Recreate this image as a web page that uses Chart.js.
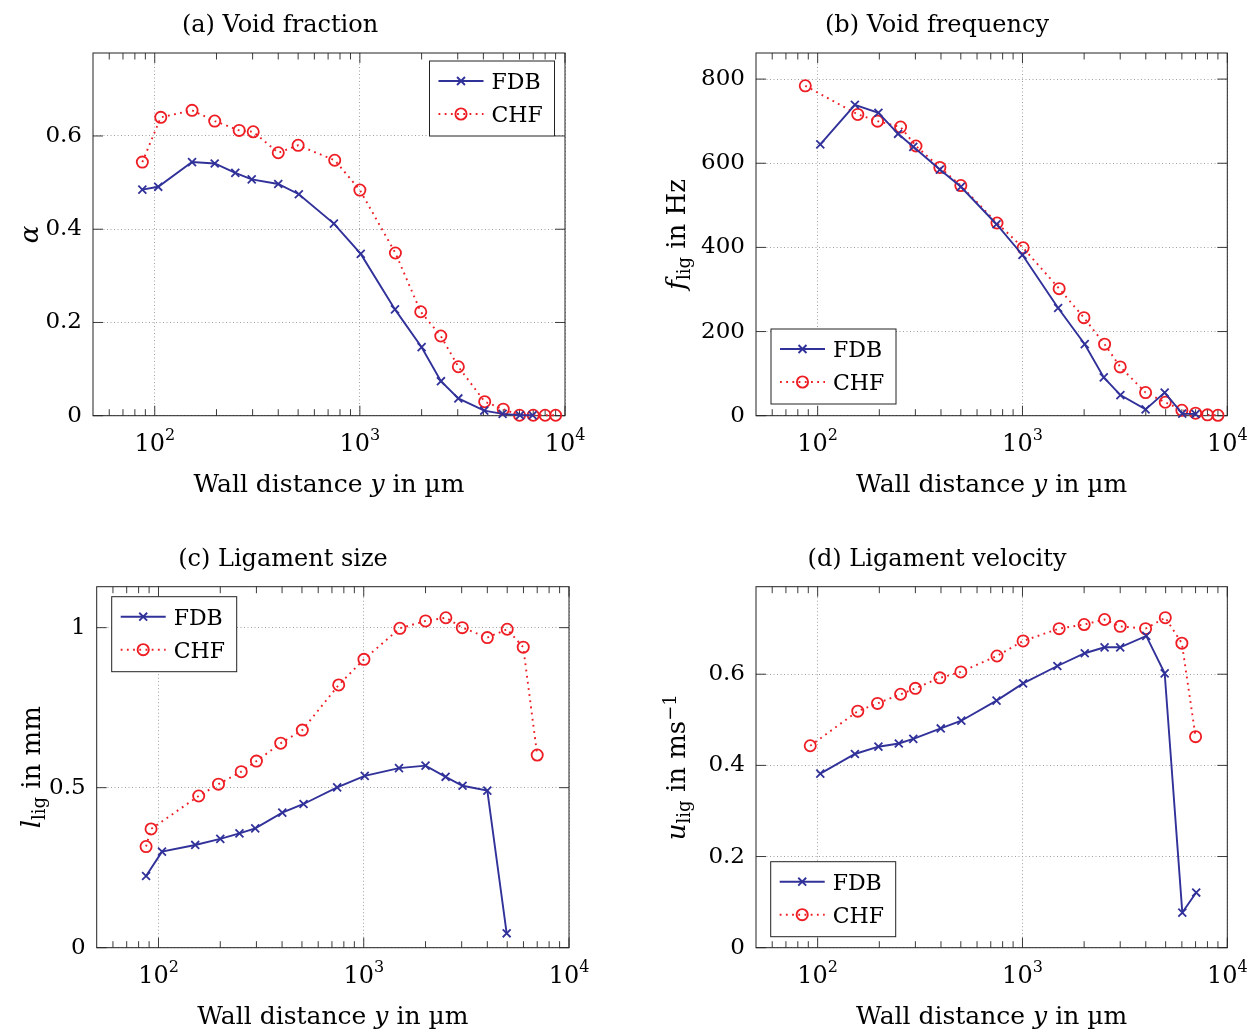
<!DOCTYPE html>
<html>
<head>
<meta charset="utf-8">
<script src="https://cdn.jsdelivr.net/npm/chart.js@4.4.1/dist/chart.umd.min.js"></script>
<style>
  body { margin: 0; background: #fff; }
  #wrap { position: relative; width: 1256px; height: 1032px; overflow: hidden; }
  canvas { position: absolute; }
</style>
</head>
<body>
<div id="wrap">
  <canvas id="chart-a" width="628" height="516" style="left:0;top:0"></canvas>
  <canvas id="chart-b" width="628" height="516" style="left:628px;top:0"></canvas>
  <canvas id="chart-c" width="628" height="516" style="left:0;top:516px"></canvas>
  <canvas id="chart-d" width="628" height="516" style="left:628px;top:516px"></canvas>
</div>
<script>
// wall distance axis (µm), shared by all four panels
const xMajor = [100, 1000, 10000];
const xMinor = [60, 70, 80, 90, 200, 300, 400, 500, 600, 700, 800, 900,
                2000, 3000, 4000, 5000, 6000, 7000, 8000, 9000];

// (a) void fraction
const voidFdbY = [87, 104, 152, 196, 247, 297, 400, 504, 747, 1010, 1483, 2000, 2484, 3020, 4040, 4965, 6030, 6950];
const voidFdb  = [0.485, 0.491, 0.544, 0.541, 0.521, 0.507, 0.497, 0.475, 0.412, 0.347, 0.228, 0.147, 0.074, 0.037, 0.011, 0.004, 0.001, 0.001];
const voidChfY = [87, 107, 152, 196, 258, 302, 400, 500, 754, 1000, 1490, 1980, 2480, 3020, 4060, 5000, 6000, 7000, 8000, 9000];
const voidChf  = [0.544, 0.640, 0.655, 0.632, 0.612, 0.609, 0.564, 0.580, 0.548, 0.484, 0.349, 0.223, 0.171, 0.105, 0.030, 0.014, 0.001, 0.001, 0.001, 0.001];
const voidTicks = [0, 0.2, 0.4, 0.6];

// (b) void frequency (Hz)
const freqFdbY = [103, 152, 198, 247, 293, 395, 500, 747, 1000, 1493, 2014, 2494, 3007, 3991, 4946, 6027, 7000];
const freqFdb  = [645, 739, 720, 670, 639, 585, 544, 455, 382, 256, 170, 91, 49, 15, 55, 5, 4];
const freqChfY = [87, 157, 196, 254, 302, 395, 500, 751, 1007, 1510, 1995, 2517, 3000, 3990, 4980, 6000, 7000, 8000, 9000];
const freqChf  = [784, 716, 700, 686, 641, 590, 547, 458, 399, 302, 233, 170, 116, 55, 32, 13, 6, 2, 1];
const freqTicks = [0, 200, 400, 600, 800];

// (c) ligament size (mm)
const sizeFdbY = [87, 104, 151, 200, 248, 296, 401, 509, 742, 1011, 1485, 2000, 2505, 3030, 4000, 4970];
const sizeFdb  = [0.224, 0.300, 0.321, 0.340, 0.357, 0.373, 0.422, 0.449, 0.501, 0.537, 0.561, 0.569, 0.534, 0.506, 0.491, 0.045];
const sizeChfY = [87, 92, 157, 196, 253, 300, 394, 502, 755, 1002, 1500, 2000, 2512, 3020, 4000, 5000, 5985, 7000];
const sizeChf  = [0.316, 0.371, 0.474, 0.511, 0.550, 0.583, 0.639, 0.680, 0.821, 0.901, 0.998, 1.021, 1.031, 1.000, 0.969, 0.995, 0.939, 0.602];
const sizeTicks = [0, 0.5, 1];

// (d) ligament velocity (m/s)
const veloFdbY = [103, 152, 198, 249, 293, 399, 503, 747, 1007, 1480, 2014, 2517, 3000, 4020, 4946, 6030, 7050];
const veloFdb  = [0.382, 0.425, 0.441, 0.448, 0.458, 0.481, 0.498, 0.542, 0.580, 0.618, 0.646, 0.659, 0.659, 0.684, 0.602, 0.077, 0.121];
const veloChfY = [92, 157, 196, 254, 300, 395, 500, 751, 1007, 1510, 2000, 2517, 3000, 3990, 4980, 6000, 7000];
const veloChf  = [0.443, 0.519, 0.536, 0.556, 0.569, 0.592, 0.605, 0.640, 0.673, 0.700, 0.709, 0.720, 0.705, 0.700, 0.724, 0.668, 0.463];
const veloTicks = [0, 0.2, 0.4, 0.6];

const FONT = '"DejaVu Serif", serif';
const BLUE = '#31319a';
const RED = '#ee1d24';
const W = 628, H = 516;

const xLabel = [{ t: 'Wall distance ' }, { t: 'y', it: true }, { t: ' in µm' }];

function fontFor(p, size) {
  const s = (p.sub || p.sup) ? Math.round(size * 0.7) : size;
  return (p.it ? 'italic ' : '') + s + 'px ' + FONT;
}

// draw text made of pieces (italic, sub- and superscripts)
function drawRich(ctx, parts, x, y, size) {
  let w = 0;
  parts.forEach(p => { ctx.font = fontFor(p, size); w += ctx.measureText(p.t).width; });
  let cx = x - w / 2;
  parts.forEach(p => {
    ctx.font = fontFor(p, size);
    const dy = p.sub ? 5 : p.sup ? -9 : 0;
    ctx.fillText(p.t, cx, y + dy);
    cx += ctx.measureText(p.t).width;
  });
}

function drawCross(ctx, x, y, r) {
  const o = r * Math.SQRT1_2;
  ctx.beginPath();
  ctx.moveTo(x - o, y - o); ctx.lineTo(x + o, y + o);
  ctx.moveTo(x - o, y + o); ctx.lineTo(x + o, y - o);
  ctx.stroke();
}

function decor(p) {
  return {
    id: 'decor',
    beforeDatasetsDraw(chart) {
      const { ctx, chartArea: a, scales } = chart;
      ctx.save();
      ctx.strokeStyle = '#3a3a3a';
      ctx.lineWidth = 1;
      ctx.beginPath();
      const tickX = (v, len) => {
        const px = scales.x.getPixelForValue(v);
        ctx.moveTo(px, a.bottom); ctx.lineTo(px, a.bottom - len);
        ctx.moveTo(px, a.top); ctx.lineTo(px, a.top + len);
      };
      xMinor.forEach(v => tickX(v, 6.5));
      xMajor.forEach(v => tickX(v, 10));
      p.yTicks.forEach(v => {
        const py = scales.y.getPixelForValue(v);
        ctx.moveTo(a.left, py); ctx.lineTo(a.left + 10, py);
        ctx.moveTo(a.right, py); ctx.lineTo(a.right - 10, py);
      });
      ctx.stroke();
      ctx.strokeStyle = '#222';
      ctx.strokeRect(a.left, a.top, a.right - a.left, a.bottom - a.top);
      ctx.restore();
    },
    afterDraw(chart) {
      const { ctx, chartArea: a, scales } = chart;
      const ox = p.off[0], oy = p.off[1];
      ctx.save();
      ctx.fillStyle = '#000';
      ctx.textBaseline = 'alphabetic';

      // decade labels 10^n
      xMajor.forEach(v => {
        const px = scales.x.getPixelForValue(v);
        const exp = String(Math.round(Math.log10(v)));
        ctx.font = '24px ' + FONT;
        const w1 = ctx.measureText('10').width;
        ctx.font = '16px ' + FONT;
        const w2 = ctx.measureText(exp).width;
        const x0 = px - (w1 + w2) / 2;
        ctx.font = '24px ' + FONT;
        ctx.fillText('10', x0, a.bottom + 35);
        ctx.font = '16px ' + FONT;
        ctx.fillText(exp, x0 + w1, a.bottom + 24);
      });

      // title and axis titles
      drawRich(ctx, [{ t: p.title }], p.titleX - ox, a.top - 21, 24);
      drawRich(ctx, xLabel, (a.left + a.right) / 2, a.bottom + 76, 25);
      ctx.save();
      ctx.translate(p.yLabelX - ox, (a.top + a.bottom) / 2);
      ctx.rotate(-Math.PI / 2);
      drawRich(ctx, p.yLabel, 0, 0, 26);
      ctx.restore();

      // legend box
      const lx = p.legend[0] - ox, ly = p.legend[1] - oy;
      ctx.fillStyle = '#fff';
      ctx.fillRect(lx, ly, 125, 75);
      ctx.strokeStyle = '#222';
      ctx.lineWidth = 1;
      ctx.strokeRect(lx, ly, 125, 75);
      const rows = [ly + 20, ly + 53];
      ctx.lineWidth = 1.9;
      ctx.strokeStyle = BLUE;
      ctx.beginPath();
      ctx.moveTo(lx + 9, rows[0]); ctx.lineTo(lx + 54, rows[0]);
      ctx.stroke();
      drawCross(ctx, lx + 31.5, rows[0], 5.6);
      ctx.strokeStyle = RED;
      ctx.setLineDash([1.8, 4.4]);
      ctx.beginPath();
      ctx.moveTo(lx + 9, rows[1]); ctx.lineTo(lx + 54, rows[1]);
      ctx.stroke();
      ctx.setLineDash([]);
      ctx.beginPath();
      ctx.arc(lx + 31.5, rows[1], 5.6, 0, Math.PI * 2);
      ctx.stroke();
      ctx.fillStyle = '#000';
      ctx.font = '22px ' + FONT;
      ctx.fillText('FDB', lx + 62, rows[0] + 8);
      ctx.fillText('CHF', lx + 62, rows[1] + 8);
      ctx.restore();
    }
  };
}

function toPoints(xs, ys) {
  return xs.map((x, i) => ({ x: x, y: ys[i] }));
}

function makeChart(p) {
  const canvas = document.getElementById(p.canvas);
  const area = {
    left: p.area.left - p.off[0], right: p.area.right - p.off[0],
    top: p.area.top - p.off[1], bottom: p.area.bottom - p.off[1]
  };
  const gridStyle = { color: '#a0a0a0', lineWidth: 1, drawTicks: false };
  return new Chart(canvas.getContext('2d'), {
    type: 'scatter',
    data: {
      datasets: [{
        label: 'FDB',
        data: toPoints(p.fdbX, p.fdb),
        showLine: true,
        clip: false,
        borderColor: BLUE,
        borderWidth: 1.9,
        pointStyle: 'crossRot',
        pointRadius: 5.6,
        pointBorderWidth: 1.8,
        pointBorderColor: BLUE,
        pointBackgroundColor: BLUE,
      }, {
        label: 'CHF',
        data: toPoints(p.chfX, p.chf),
        showLine: true,
        clip: false,
        borderColor: RED,
        borderWidth: 1.9,
        borderDash: [1.8, 4.4],
        pointStyle: 'circle',
        pointRadius: 5.6,
        pointBorderWidth: 1.8,
        pointBorderColor: RED,
        pointBackgroundColor: 'rgba(0,0,0,0)',
      }]
    },
    options: {
      responsive: false,
      animation: false,
      devicePixelRatio: 1,
      layout: {
        autoPadding: false,
        padding: { top: area.top, right: W - area.right, left: 0, bottom: 0 }
      },
      plugins: { legend: { display: false }, tooltip: { enabled: false } },
      scales: {
        x: {
          type: 'logarithmic',
          min: 50,
          max: 10000,
          afterBuildTicks: s => { s.ticks = xMajor.map(v => ({ value: v })); },
          afterFit: s => { s.height = H - area.bottom; },
          ticks: { display: false },
          grid: gridStyle,
          border: { display: false, dash: [1, 2.5] }
        },
        y: {
          type: 'linear',
          min: 0,
          max: p.yMax,
          afterBuildTicks: s => { s.ticks = p.yTicks.map(v => ({ value: v })); },
          afterFit: s => { s.width = area.left; },
          ticks: {
            color: '#000',
            padding: 11,
            font: { family: FONT, size: 23 },
            callback: v => String(v)
          },
          grid: gridStyle,
          border: { display: false, dash: [1, 2.5] }
        }
      }
    },
    plugins: [decor(p)]
  });
}

makeChart({
  canvas: 'chart-a', off: [0, 0],
  area: { left: 93, right: 565, top: 53, bottom: 415.7 },
  yMax: 0.778, yTicks: voidTicks,
  fdbX: voidFdbY, fdb: voidFdb, chfX: voidChfY, chf: voidChf,
  title: '(a) Void fraction', titleX: 280,
  yLabel: [{ t: 'α', it: true }], yLabelX: 38,
  legend: [429.5, 61]
});
makeChart({
  canvas: 'chart-b', off: [628, 0],
  area: { left: 756, right: 1227.3, top: 53, bottom: 415.7 },
  yMax: 862, yTicks: freqTicks,
  fdbX: freqFdbY, fdb: freqFdb, chfX: freqChfY, chf: freqChf,
  title: '(b) Void frequency', titleX: 937,
  yLabel: [{ t: 'f', it: true }, { t: 'lig', sub: true }, { t: ' in Hz' }], yLabelX: 685,
  legend: [771, 329]
});
makeChart({
  canvas: 'chart-c', off: [0, 516],
  area: { left: 96.7, right: 569, top: 586.7, bottom: 947.7 },
  yMax: 1.128, yTicks: sizeTicks,
  fdbX: sizeFdbY, fdb: sizeFdb, chfX: sizeChfY, chf: sizeChf,
  title: '(c) Ligament size', titleX: 283,
  yLabel: [{ t: 'l', it: true }, { t: 'lig', sub: true }, { t: ' in mm' }], yLabelX: 39.5,
  legend: [111.7, 596.7]
});
makeChart({
  canvas: 'chart-d', off: [628, 516],
  area: { left: 756, right: 1227.3, top: 586.7, bottom: 947.7 },
  yMax: 0.792, yTicks: veloTicks,
  fdbX: veloFdbY, fdb: veloFdb, chfX: veloChfY, chf: veloChf,
  title: '(d) Ligament velocity', titleX: 937,
  yLabel: [{ t: 'u', it: true }, { t: 'lig', sub: true }, { t: ' in ms' }, { t: '−1', sup: true }], yLabelX: 685,
  legend: [770.7, 861.7]
});
</script>
</body>
</html>
